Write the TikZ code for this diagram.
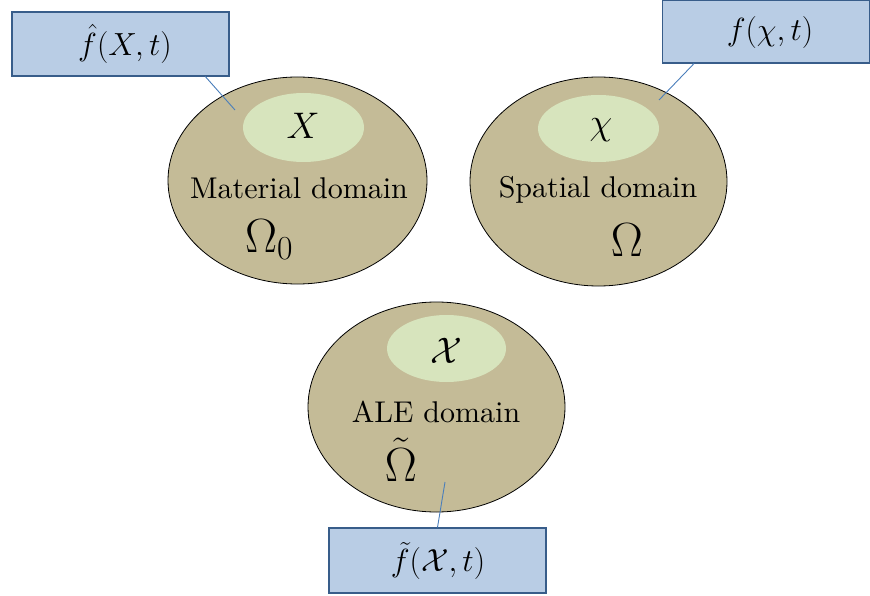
\RequirePackage{fix-cm}
\documentclass[tikz,border=0pt]{standalone}
\usetikzlibrary{shapes.geometric}
\definecolor{tanfill}{HTML}{C4BB97}
\definecolor{greenfill}{HTML}{D7E4BD}
\definecolor{bluefill}{HTML}{B9CDE5}
\definecolor{blueedge}{HTML}{385D8A}
\definecolor{connblue}{HTML}{4A7EBB}
\begin{document}
\begin{tikzpicture}[x=1pt,y=-1pt,
  outer/.style={ellipse, draw=black, line width=0.8pt, fill=tanfill, inner sep=0pt},
  inner/.style={ellipse, fill=greenfill, inner sep=0pt},
  fbox/.style={rectangle, draw=blueedge, line width=1.1pt, fill=bluefill, inner sep=0pt},
  conn/.style={draw=connblue, line width=0.9pt},
  lbl/.style={inner sep=0pt, font=\fontsize{10}{12}\selectfont, scale=3},
  sym/.style={inner sep=0pt, font=\fontsize{37}{40}\selectfont},
  big/.style={inner sep=0pt, font=\fontsize{48}{52}\selectfont},
  ftxt/.style={inner sep=0pt, font=\fontsize{32}{36}\selectfont}]
\useasboundingbox (0,0) rectangle (870,596);
% Material domain
\node[outer, minimum width=259pt, minimum height=207pt] (mat) at (297.5,180.5) {};
\node[inner, minimum width=121pt, minimum height=69pt] (matin) at (303.5,127.5) {};
\node[sym] (matX) at (303,126) {$X$};
\node[lbl] (matT) at (299,188) {Material domain};
\node[big] (matO) at (269,240) {$\Omega_0$};
% Spatial domain
\node[outer, minimum width=257pt, minimum height=209pt] (spa) at (598.5,181.5) {};
\node[inner, minimum width=121pt, minimum height=67pt] (spain) at (598.5,128.5) {};
\node[sym] (spaX) at (601,130) {$\chi$};
\node[lbl] (spaT) at (598,190) {Spatial domain};
\node[big] (spaO) at (627,240) {$\Omega$};
% ALE domain
\node[outer, minimum width=257pt, minimum height=210pt] (ale) at (436.5,407) {};
\node[inner, minimum width=119pt, minimum height=67pt] (alein) at (446.5,348.5) {};
\node[sym] (aleX) at (446,351) {$\mathcal{X}$};
\node[lbl] (aleT) at (436,412) {ALE domain};
\node[big] (aleO) at (401,460) {$\tilde{\Omega}$};
% Boxes
\node[fbox, minimum width=217pt, minimum height=64pt] (boxA) at (120.5,44) {};
\node[ftxt] (boxAt) at (125,44) {$\hat{f}(X,t)$};
\node[fbox, minimum width=207pt, minimum height=63pt] (boxB) at (766,31.5) {};
\node[ftxt] (boxBt) at (770,33) {$f(\chi,t)$};
\node[fbox, minimum width=217pt, minimum height=65pt] (boxC) at (437.5,560.5) {};
\node[ftxt] (boxCt) at (438,561) {$\tilde{f}(\mathcal{X},t)$};
% connectors
\coordinate (pA) at (235,110);
\coordinate (pB) at (659,100);
\coordinate (pC) at (445,482);
\draw[conn] (boxA.-21) -- (pA);
\draw[conn] (boxB.-156.7) -- (pB);
\draw[conn] (boxC.north) -- (pC);
\end{tikzpicture}
\end{document}
